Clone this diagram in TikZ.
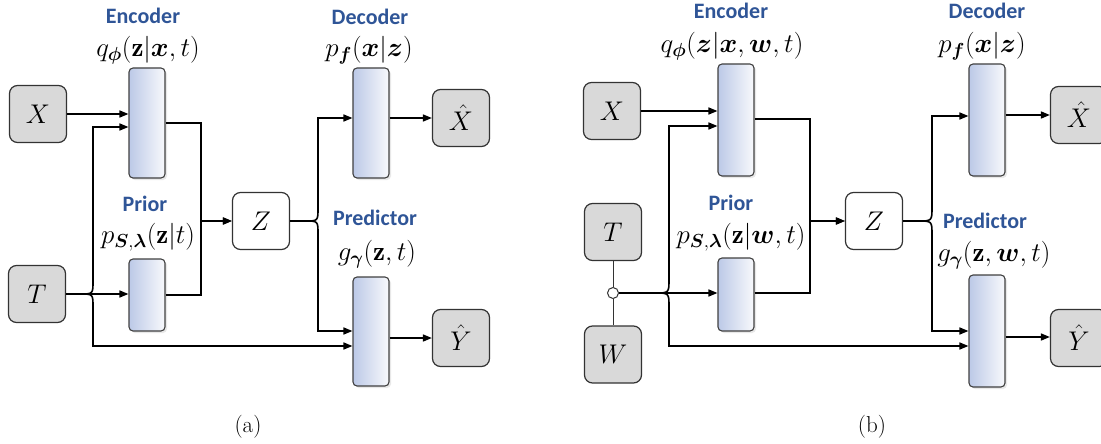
\RequirePackage{fix-cm}
\documentclass[tikz,border=0pt]{standalone}
\usepackage{fontspec}
\usepackage{amsmath}
\usepackage{bm}
\setsansfont{Carlito}
\usetikzlibrary{arrows.meta,shadows}

\definecolor{boxgray}{HTML}{D9D9D9}
\definecolor{boxline}{HTML}{333333}
\definecolor{barline}{HTML}{404040}
\definecolor{barleft}{HTML}{BCC9E7}
\definecolor{barright}{HTML}{F8F9FC}
\definecolor{headblue}{HTML}{2F5597}

\begin{document}
\begin{tikzpicture}[x=1pt,y=-1pt,
  conn/.style={line width=1.6pt,-{Triangle[length=9pt,width=7pt]}},
  thinwire/.style={line width=1pt,draw=boxline},
  io/.style={draw=boxline,fill=boxgray,line width=1.2pt,rounded corners=8pt,
    minimum width=57pt,minimum height=57pt,inner sep=0pt,
    font=\fontsize{27}{32}\selectfont},
  zbox/.style={io,fill=white},
  bar/.style={draw=barline,line width=1.1pt,rounded corners=4pt,
    left color=barleft,right color=barright,
    minimum width=36pt,minimum height=#1,inner sep=0pt,
    drop shadow={opacity=0.18,shadow xshift=2pt,shadow yshift=-2pt}},
  head/.style={font=\sffamily\bfseries\fontsize{22}{26}\selectfont,
    text=headblue,inner sep=0pt},
  fn/.style={font=\fontsize{27}{31}\selectfont,inner sep=0pt},
  captext/.style={font=\fontsize{23}{27}\selectfont,inner sep=0pt},
  junction/.style={circle,draw=boxline,fill=white,line width=1pt,
    minimum size=11pt,inner sep=0pt}]

\useasboundingbox (0,0) rectangle (1101,444);

% ---------------- panel (a) ----------------
\node[io]   (aX)  at (38,114)  {$X$};
\node[io]   (aT)  at (37,294)  {$T$};
\node[bar=110pt] (aEnc)  at (147,123) {};
\node[bar=72pt]  (aPri)  at (147,295) {};
\node[zbox] (aZ)  at (261,221) {$Z$};
\node[bar=110pt] (aDec)  at (371,123) {};
\node[bar=109pt] (aPred) at (371,331.5) {};
\node[io]   (aXh) at (461,118) {$\hat{X}$};
\node[io]   (aYh) at (461,338) {$\hat{Y}$};

\node[head] (aEncH)  at (143,16)  {Encoder};
\node[fn]   (aEncF)  at (148,50)  {$q_{\bm{\phi}}(\mathbf{z}|\bm{x},t)$};
\node[head] (aDecH)  at (370,17)  {Decoder};
\node[fn]   (aDecF)  at (369,50)  {$p_{\bm{f}}(\bm{x}|\bm{z})$};
\node[head] (aPriH)  at (145,204) {Prior};
\node[fn]   (aPriF)  at (148,237) {$p_{\bm{S},\bm{\lambda}}(\mathbf{z}|t)$};
\node[head] (aPredH) at (375,218) {Predictor};
\node[fn]   (aPredF) at (377,254) {$g_{\bm{\gamma}}(\mathbf{z},t)$};
\node[captext] (aCap) at (248,427) {(a)};

\coordinate (aTs) at (80,294);
\coordinate (aZs) at (305,221);

\draw[conn] (aX.east) -- (aX.east -| aEnc.west);
\draw[conn] (aT.east) -- (aTs) .. controls (93,294) .. (93,281)
  -- (93,127) -- (aEnc.west |- 0,127);
\draw[conn] (aT.east) -- (aT.east -| aPri.west);
\draw[conn] (aT.east) -- (aTs) .. controls (93,294) .. (93,307)
  -- (93,346) -- (aPred.west |- 0,346);
\draw[conn] (aEnc.east) -- (201,123) |- (aZ.west);
\draw[conn] (aPri.east) -- (201,295) |- (aZ.west);
\draw[conn] (aZ.east) -- (aZs) .. controls (318,221) .. (318,208)
  -- (318,118) -- (aDec.west |- 0,118);
\draw[conn] (aZ.east) -- (aZs) .. controls (318,221) .. (318,234)
  -- (318,331) -- (aPred.west |- 0,331);
\draw[conn] (aDec.east |- aXh.west) -- (aXh.west);
\draw[conn] (aPred.east |- aYh.west) -- (aYh.west);

% ---------------- panel (b) ----------------
\node[io]   (bX)  at (612,111) {$X$};
\node[io]   (bT)  at (613,232)   {$T$};
\node[io]   (bW)  at (613,354.5) {$W$};
\node[junction] (bJ) at (613,293) {};
\node[bar=112pt] (bEnc)  at (736,120)   {};
\node[bar=73pt]  (bPri)  at (736,294.5) {};
\node[zbox] (bZ)  at (874,221) {$Z$};
\node[bar=112pt] (bDec)  at (987,120) {};
\node[bar=112pt] (bPred) at (987,331) {};
\node[io]   (bXh) at (1079,115) {$\hat{X}$};
\node[io]   (bYh) at (1079,338) {$\hat{Y}$};

\node[head] (bEncH)  at (731,11)  {Encoder};
\node[fn]   (bEncF)  at (732,46)  {$q_{\bm{\phi}}(\bm{z}|\bm{x},\bm{w},t)$};
\node[head] (bDecH)  at (987,11)  {Decoder};
\node[fn]   (bDecF)  at (982,46)  {$p_{\bm{f}}(\bm{x}|\bm{z})$};
\node[head] (bPriH)  at (731,203) {Prior};
\node[fn]   (bPriF)  at (741,237) {$p_{\bm{S},\bm{\lambda}}(\mathbf{z}|\bm{w},t)$};
\node[head] (bPredH) at (985,221) {Predictor};
\node[fn]   (bPredF) at (994,255) {$g_{\bm{\gamma}}(\mathbf{z},\bm{w},t)$};
\node[captext] (bCap) at (872,427) {(b)};

\draw[thinwire] (bT.south) -- (bJ.north);
\draw[thinwire] (bJ.south) -- (bW.north);

\coordinate (bJs) at (655,293);
\coordinate (bZs) at (918,221);

\draw[conn] (bX.east) -- (bX.east -| bEnc.west);
\draw[conn] (bJ.east) -- (bJs) .. controls (669,293) .. (669,279)
  -- (669,126) -- (bEnc.west |- 0,126);
\draw[conn] (bJ.east) -- (bJ.east -| bPri.west);
\draw[conn] (bJ.east) -- (bJs) .. controls (669,293) .. (669,307)
  -- (669,346) -- (bPred.west |- 0,346);
\draw[conn] (bEnc.east |- 0,119) -- (810,119) |- (bZ.west);
\draw[conn] (bPri.east |- 0,293) -- (810,293) |- (bZ.west);
\draw[conn] (bZ.east) -- (bZs) .. controls (932,221) .. (932,207)
  -- (932,116) -- (bDec.west |- 0,116);
\draw[conn] (bZ.east) -- (bZs) .. controls (932,221) .. (932,235)
  -- (932,331) -- (bPred.west |- 0,331);
\draw[conn] (bDec.east |- bXh.west) -- (bXh.west);
\draw[conn] (bPred.east |- 0,337) -- (bYh.west |- 0,337);
\end{tikzpicture}
\end{document}
